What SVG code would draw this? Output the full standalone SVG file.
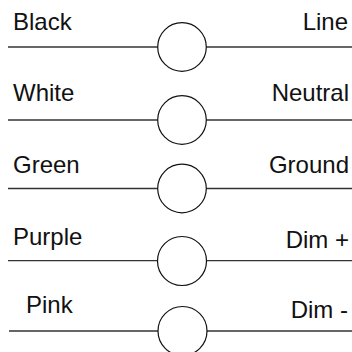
<svg xmlns="http://www.w3.org/2000/svg" width="352" height="352" viewBox="0 0 352 352">
<style>
.w{stroke:#333;stroke-width:1.3;fill:none}
.c{stroke:#111;stroke-width:1.2;fill:#fff}
.t{font-family:"Liberation Sans",Arial,sans-serif;font-size:24px;fill:#111}
.r{text-anchor:end}
</style>
<rect width="352" height="352" fill="#fff"/>
<g id="connectors">
<line class="w" x1="8" y1="47" x2="158" y2="47"/><line class="w" x1="206" y1="47" x2="352" y2="47"/>
<line class="w" x1="8" y1="120" x2="158" y2="120"/><line class="w" x1="206" y1="120" x2="352" y2="120"/>
<line class="w" x1="8" y1="188.5" x2="158" y2="188.5"/><line class="w" x1="206" y1="188.5" x2="352" y2="188.5"/>
<line class="w" x1="8" y1="260.7" x2="158" y2="260.7"/><line class="w" x1="206" y1="260.7" x2="352" y2="260.7"/>
<line class="w" x1="9" y1="331" x2="158" y2="331"/><line class="w" x1="206" y1="331" x2="352" y2="331"/>
</g>
<g id="row1"><circle class="c" cx="182" cy="47" r="24.3"/><text class="t" x="13" y="30">Black</text><text class="t r" x="348" y="30">Line</text></g>
<g id="row2"><circle class="c" cx="182" cy="120" r="24.3"/><text class="t" x="13" y="101">White</text><text class="t r" x="349" y="101">Neutral</text></g>
<g id="row3"><circle class="c" cx="182" cy="188.5" r="24.3"/><text class="t" x="13" y="172.7">Green</text><text class="t r" x="349" y="172.7">Ground</text></g>
<g id="row4"><circle class="c" cx="182" cy="261" r="24.5"/><text class="t" x="13" y="245">Purple</text><text class="t r" x="349" y="248.3">Dim +</text></g>
<g id="row5"><circle class="c" cx="182.5" cy="331" r="24.5"/><text class="t" x="26" y="312.7">Pink</text><text class="t r" x="348" y="317.7">Dim -</text></g>
</svg>
